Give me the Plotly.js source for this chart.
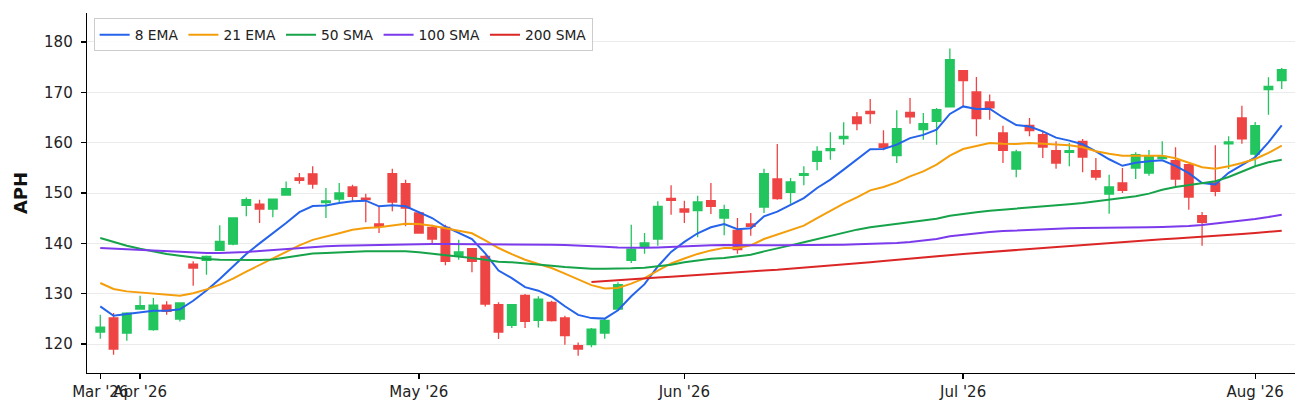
<!DOCTYPE html>
<html>
<head>
<meta charset="utf-8">
<script src="https://cdn.plot.ly/plotly-3.0.1.min.js"></script>
<style>
  html, body { margin: 0; padding: 0; background: #fff; }
  #chart { width: 1308px; height: 415px; }
</style>
</head>
<body>
<div id="chart"></div>
<script>
// trading days (NYSE calendar, holidays skipped)
var dates = [
  '2026-03-27','2026-03-30','2026-03-31','2026-04-01','2026-04-02',
  '2026-04-06','2026-04-07','2026-04-08','2026-04-09','2026-04-10',
  '2026-04-13','2026-04-14','2026-04-15','2026-04-16','2026-04-17',
  '2026-04-20','2026-04-21','2026-04-22','2026-04-23','2026-04-24',
  '2026-04-27','2026-04-28','2026-04-29','2026-04-30','2026-05-01',
  '2026-05-04','2026-05-05','2026-05-06','2026-05-07','2026-05-08',
  '2026-05-11','2026-05-12','2026-05-13','2026-05-14','2026-05-15',
  '2026-05-18','2026-05-19','2026-05-20','2026-05-21','2026-05-22',
  '2026-05-26','2026-05-27','2026-05-28','2026-05-29','2026-06-01',
  '2026-06-02','2026-06-03','2026-06-04','2026-06-05','2026-06-08',
  '2026-06-09','2026-06-10','2026-06-11','2026-06-12','2026-06-15',
  '2026-06-16','2026-06-17','2026-06-18','2026-06-22','2026-06-23',
  '2026-06-24','2026-06-25','2026-06-26','2026-06-29','2026-06-30',
  '2026-07-01','2026-07-02','2026-07-06','2026-07-07','2026-07-08',
  '2026-07-09','2026-07-10','2026-07-13','2026-07-14','2026-07-15',
  '2026-07-16','2026-07-17','2026-07-20','2026-07-21','2026-07-22',
  '2026-07-23','2026-07-24','2026-07-27','2026-07-28','2026-07-29',
  '2026-07-30','2026-07-31','2026-08-03','2026-08-04','2026-08-05'
];

var opens = [
  122.38,125.17,122.19,126.95,122.85,127.75,124.97,135.89,136.61,138.6,
  139.86,147.54,147.81,146.82,149.6,152.98,153.8,148.08,148.81,151.19,
  149.0,143.84,153.84,151.85,146.03,143.18,143.18,137.62,138.94,137.42,
  127.81,123.71,129.67,124.7,128.28,125.17,119.67,119.87,122.19,126.95,
  136.62,139.4,140.86,148.94,146.82,146.49,148.48,145.03,142.58,143.84,
  147.22,152.78,150.13,153.51,156.29,158.41,160.79,165.1,166.23,159.74,
  157.42,166.03,162.58,164.24,167.09,174.3,170.07,168.08,161.92,154.77,
  163.44,161.59,158.41,158.08,160.26,154.44,149.8,151.99,154.97,153.97,
  156.82,156.42,155.63,145.5,151.99,159.74,164.9,157.75,170.53,172.32
];
var highs = [
  125.83,126.16,126.3,129.6,129.14,128.48,128.15,136.42,137.61,143.57,
  145.2,149.13,148.67,148.87,152.3,153.97,155.3,151.0,151.99,151.66,
  149.87,147.35,154.83,152.65,146.36,143.71,143.71,140.73,139.07,137.62,
  128.28,127.81,129.93,129.47,128.61,125.63,120.33,123.18,125.17,132.25,
  143.71,142.05,148.34,151.52,148.48,149.47,151.99,147.68,145.03,146.03,
  154.83,159.74,152.98,155.3,159.27,162.05,164.04,166.09,168.68,162.45,
  166.42,168.88,165.89,166.89,178.68,174.4,173.05,169.54,163.38,158.61,
  164.9,162.25,160.26,159.93,160.73,156.95,153.64,154.97,158.08,158.54,
  160.26,159.07,155.7,146.23,159.47,161.26,167.35,164.11,172.98,174.83
];
var lows = [
  121.06,117.88,120.66,126.9,122.65,125.83,124.5,131.58,133.77,138.5,
  139.6,145.36,144.04,145.17,149.6,151.85,150.86,145.03,148.21,148.21,
  144.17,142.05,146.36,143.38,142.0,140.07,135.63,136.75,134.24,127.48,
  120.99,123.18,123.18,123.31,124.5,119.87,117.68,119.34,121.06,126.82,
  136.09,137.95,139.54,145.7,144.04,141.19,145.83,141.59,137.95,141.52,
  146.03,148.68,147.88,151.52,154.5,156.62,159.6,162.45,163.77,158.48,
  155.96,163.77,160.6,159.6,167.0,167.22,161.26,164.57,155.96,153.11,
  161.26,156.95,154.83,155.3,154.11,152.52,145.89,150.0,152.78,153.44,
  156.7,151.32,146.69,139.54,149.34,154.77,159.8,155.3,165.56,170.66
];
var closes = [
  123.38,119.0,126.16,127.62,127.75,126.49,128.15,135.1,137.41,140.39,
  145.03,148.67,146.82,148.8,150.85,152.51,151.79,148.41,150.0,149.34,
  148.68,143.38,148.21,147.02,142.05,140.86,136.42,138.28,136.42,127.95,
  122.38,127.81,124.5,128.94,124.64,121.66,119.0,122.98,124.7,131.79,
  138.87,140.07,147.35,148.54,146.23,148.21,147.35,146.69,138.74,143.38,
  153.84,148.87,152.19,153.84,158.28,158.81,161.26,163.77,165.76,159.07,
  162.78,165.1,163.77,166.56,176.49,172.32,164.77,166.89,158.48,158.15,
  162.38,159.14,155.96,158.41,157.15,153.18,151.19,150.53,157.62,157.28,
  157.28,152.78,149.2,144.17,150.33,160.13,160.73,163.38,171.19,174.5
];

var ema8 = [
  127.48,125.63,125.96,126.29,126.6,126.6,126.9,128.6,130.65,132.9,
  135.3,137.9,140.0,142.0,144.05,146.2,147.4,147.5,148.0,148.34,
  148.48,147.35,147.55,147.35,146.16,145.03,143.3,142.05,140.86,138.0,
  134.6,133.1,131.3,130.6,129.4,127.5,125.8,125.15,125.05,126.7,
  129.5,131.9,135.4,138.3,140.3,142.0,143.2,143.85,142.8,143.0,
  145.36,146.3,147.7,149.0,150.99,152.65,154.64,156.62,158.7,158.74,
  159.6,160.9,161.55,162.58,165.7,167.2,166.7,166.75,165.0,163.5,
  163.2,162.25,161.0,160.4,159.7,158.25,156.7,155.4,156.0,156.3,
  156.5,155.4,153.95,152.0,151.7,154.0,155.5,157.1,160.07,163.44
];
var ema21 = [
  132.12,130.93,130.46,130.26,130.0,129.8,129.6,130.1,130.85,131.8,
  133.0,134.4,135.7,137.0,138.3,139.6,140.7,141.3,142.0,142.7,
  143.05,143.18,143.58,143.91,143.84,143.51,143.0,142.55,142.0,140.6,
  139.07,137.85,136.75,135.89,135.1,134.0,132.8,131.7,131.05,131.15,
  132.0,133.1,134.6,136.0,137.0,137.9,138.6,139.1,139.07,139.6,
  140.86,141.72,142.58,143.51,145.03,146.49,147.88,149.14,150.53,151.19,
  152.12,153.31,154.3,155.63,157.42,158.74,159.27,159.93,159.8,159.74,
  159.93,159.8,159.54,159.47,159.07,158.28,157.81,157.42,157.42,157.42,
  157.42,156.89,155.96,155.1,154.83,155.3,155.96,156.75,157.95,159.4
];
var sma50 = [
  141.06,140.26,139.54,138.94,138.41,137.88,137.55,137.22,136.89,136.75,
  136.69,136.69,136.69,136.8,137.15,137.6,137.98,138.08,138.21,138.34,
  138.41,138.41,138.41,138.41,138.21,137.95,137.68,137.42,137.09,136.75,
  136.36,136.23,135.96,135.76,135.56,135.3,135.1,134.97,134.97,134.97,
  135.03,135.17,135.43,135.76,136.23,136.62,136.95,137.09,137.42,137.75,
  138.41,139.07,139.6,140.2,140.86,141.52,142.19,142.72,143.18,143.51,
  143.84,144.17,144.5,144.9,145.5,145.89,146.16,146.49,146.69,146.82,
  147.09,147.35,147.48,147.75,148.01,148.34,148.68,148.94,149.34,149.87,
  150.66,151.19,151.59,151.99,152.32,153.18,154.3,155.3,156.09,156.62
];
var sma100 = [
  139.07,138.94,138.81,138.68,138.54,138.41,138.28,138.15,138.08,138.08,
  138.15,138.28,138.48,138.68,138.94,139.14,139.27,139.4,139.54,139.6,
  139.67,139.74,139.8,139.84,139.87,139.87,139.87,139.87,139.87,139.87,
  139.87,139.87,139.84,139.8,139.74,139.67,139.6,139.47,139.33,139.2,
  139.14,139.14,139.2,139.33,139.47,139.54,139.6,139.67,139.6,139.6,
  139.6,139.6,139.6,139.67,139.67,139.74,139.74,139.8,139.87,139.93,
  140.07,140.26,140.6,140.86,141.39,141.72,142.05,142.25,142.45,142.58,
  142.72,142.78,142.92,142.98,143.05,143.05,143.11,143.11,143.18,143.18,
  143.24,143.31,143.45,143.64,143.91,144.17,144.5,144.83,145.23,145.7
];
var sma200 = [
  null,null,null,null,null,null,null,null,null,null,
  null,null,null,null,null,null,null,null,null,null,
  null,null,null,null,null,null,null,null,null,null,
  null,null,null,null,null,null,null,132.3,132.5,132.65,
  132.85,133.0,133.2,133.35,133.55,133.7,133.9,134.05,134.25,134.4,
  134.6,134.75,134.95,135.15,135.35,135.55,135.75,136.0,136.25,136.5,
  136.75,137.0,137.25,137.5,137.7,137.9,138.1,138.3,138.5,138.7,
  138.9,139.1,139.3,139.5,139.7,139.9,140.1,140.3,140.45,140.6,
  140.8,140.95,141.1,141.3,141.45,141.65,141.85,142.05,142.25,142.5
];

var tickDates = ['2026-03-27','2026-04-01','2026-05-01','2026-06-01','2026-07-01','2026-08-03'];
var tickLabels = ["Mar '26","Apr '26","May '26","Jun '26","Jul '26","Aug '26"];

var lineDefs = [
  {name: '8 EMA', y: ema8, color: '#2563eb'},
  {name: '21 EMA', y: ema21, color: '#f59e0b'},
  {name: '50 SMA', y: sma50, color: '#16a34a'},
  {name: '100 SMA', y: sma100, color: '#7c3aed'},
  {name: '200 SMA', y: sma200, color: '#dc2626'}
];

var candles = {
  type: 'candlestick',
  x: dates,
  open: opens,
  high: highs,
  low: lows,
  close: closes,
  increasing: {line: {color: '#22c55e', width: 1.3}, fillcolor: '#22c55e'},
  decreasing: {line: {color: '#ef4444', width: 1.3}, fillcolor: '#ef4444'},
  whiskerwidth: 0,
  showlegend: false,
  hoverinfo: 'skip'
};

var traces = [candles];
for (var i = 0; i < lineDefs.length; i++) {
  traces.push({
    type: 'scatter',
    mode: 'lines',
    x: dates,
    y: lineDefs[i].y,
    name: lineDefs[i].name,
    line: {color: lineDefs[i].color, width: 2},
    connectgaps: false
  });
}

var layout = {
  width: 1308,
  height: 415,
  margin: {l: 87, r: 13, t: 13, b: 42, pad: 0},
  paper_bgcolor: '#ffffff',
  plot_bgcolor: '#ffffff',
  font: {family: 'DejaVu Sans', size: 15, color: '#222222'},
  boxgap: 0.35,
  boxgroupgap: 0,
  showlegend: true,
  legend: {
    x: 0.0055, y: 0.985, xanchor: 'left', yanchor: 'top',
    orientation: 'h',
    bgcolor: 'rgba(255,255,255,0.9)',
    bordercolor: '#cccccc', borderwidth: 1,
    font: {size: 13.8}
  },
  xaxis: {
    type: 'category',
    range: [-1, 90],
    tickvals: tickDates,
    ticktext: tickLabels,
    tickangle: 0,
    showgrid: false,
    zeroline: false,
    showline: true, linecolor: '#000000', linewidth: 1.3,
    ticks: 'outside', ticklen: 5, tickwidth: 1.3, tickcolor: '#000000',
    rangeslider: {visible: false}
  },
  yaxis: {
    range: [114.25, 185.75],
    tick0: 0, dtick: 10,
    showgrid: true, gridcolor: '#ebebeb', gridwidth: 1,
    zeroline: false,
    showline: true, linecolor: '#000000', linewidth: 1.3,
    ticks: 'outside', ticklen: 5, tickwidth: 1.3, tickcolor: '#000000',
    ticklabelstandoff: 5,
    title: {text: '<b>APH</b>', font: {size: 18, color: '#111111'}, standoff: 11}
  }
};

Plotly.newPlot('chart', traces, layout, {displayModeBar: false, staticPlot: true});
</script>
</body>
</html>
